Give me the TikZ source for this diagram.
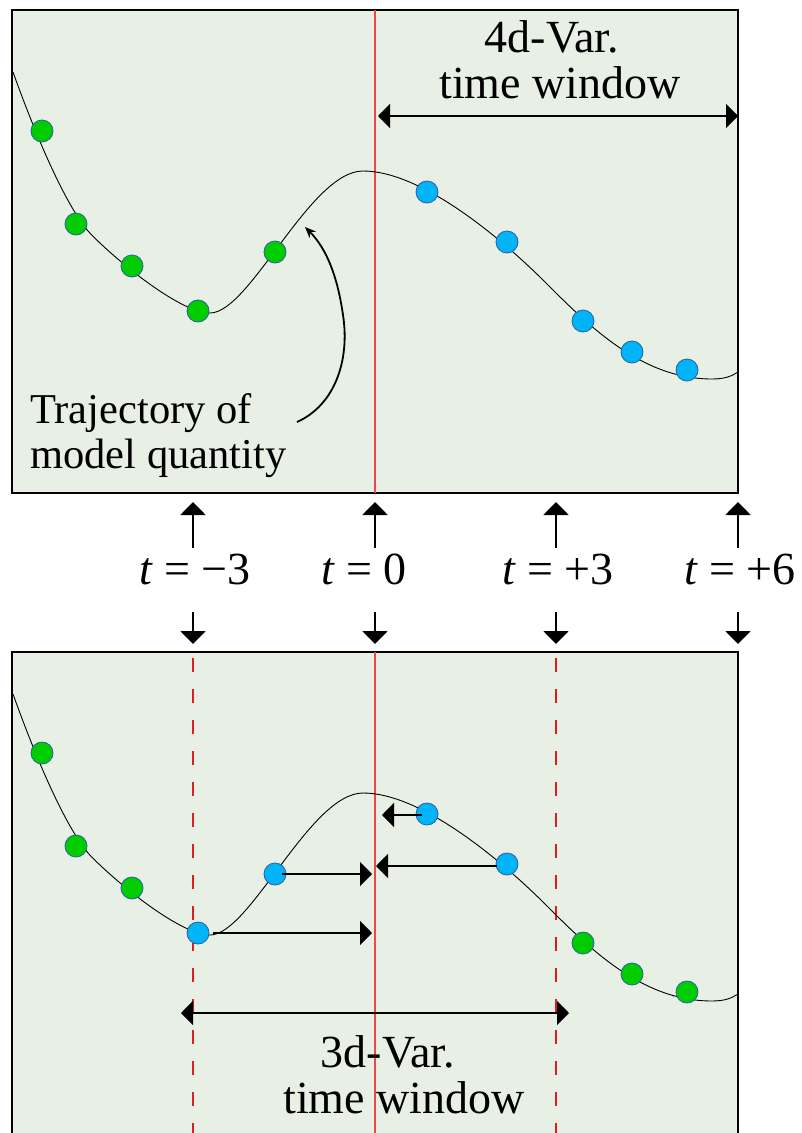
\documentclass[tikz,border=0pt]{standalone}
\usepackage{fontspec}
\setmainfont{Liberation Serif}
\usetikzlibrary{arrows.meta}
\definecolor{panelbg}{RGB}{232,239,228}
\definecolor{dotgreen}{RGB}{0,204,0}
\definecolor{dotblue}{RGB}{0,180,250}
\definecolor{dotedge}{RGB}{40,95,160}
\definecolor{redsolid}{RGB}{240,70,70}
\definecolor{reddash}{RGB}{220,30,30}
\begin{document}
\begin{tikzpicture}[x=1pt,y=-1pt,
  panel/.style={draw=black,fill=panelbg,line width=2pt},
  traj/.style={draw=black,line width=0.9pt},
  gdot/.style={circle,draw=dotedge,line width=0.8pt,fill=dotgreen,minimum size=22pt,inner sep=0pt},
  bdot/.style={circle,draw=dotedge,line width=0.8pt,fill=dotblue,minimum size=22pt,inner sep=0pt},
  redline/.style={draw=redsolid,line width=1.1pt},
  reddashed/.style={draw=reddash,line width=1.2pt,dash pattern=on 14pt off 17pt},
  harrow/.style={draw=black,line width=2pt,-{Triangle[length=12pt,width=24pt]}},
  winarrow/.style={draw=black,line width=2pt,{Triangle[length=12pt,width=24pt]}-{Triangle[length=12pt,width=24pt]}},
  varrow/.style={draw=black,line width=2pt,-{Triangle[length=13pt,width=25pt]}},
  bigtxt/.style={font=\fontsize{46}{46}\selectfont,inner sep=0pt},
  wintxt/.style={align=center,inner sep=0pt},
  midtxt/.style={font=\fontsize{42.5}{45}\selectfont,inner sep=0pt,align=left}
]
\useasboundingbox (0,0) rectangle (801,1133);
\fill[white] (0,0) rectangle (801,1133);

% panels
\draw[panel] (11.5,9.5) rectangle (738,493);
\draw[panel] (11.5,652) rectangle (738,1150);

% red reference lines
\draw[redline] (375,10) -- (375,493);
\draw[redline] (375,652) -- (375,1133);
\draw[reddashed] (193,658) -- (193,1133);
\draw[reddashed] (556,658) -- (556,1133);

% trajectories
\foreach \dy in {0,622}{
\begin{scope}[shift={(0,\dy)}]
\draw[traj] (13,72) .. controls (33,128) and (63,201) .. (88,231)
  .. controls (108,253) and (178,313) .. (210,313)
  .. controls (250,313) and (310,171) .. (363,171)
  .. controls (423,171) and (505,242) .. (545,282)
  .. controls (590,327) and (642,379) .. (712,379)
  .. controls (725,379) and (732,376) .. (738,372);
\end{scope}}

% top panel dots
\node[gdot] (tg1) at (42,131) {};
\node[gdot] (tg2) at (76,224) {};
\node[gdot] (tg3) at (132,266) {};
\node[gdot] (tg4) at (198,311) {};
\node[gdot] (tg5) at (275,252) {};
\node[bdot] (tb1) at (427,192) {};
\node[bdot] (tb2) at (507,242) {};
\node[bdot] (tb3) at (583,321) {};
\node[bdot] (tb4) at (632,352) {};
\node[bdot] (tb5) at (687,370) {};

% bottom panel dots
\node[gdot] (bg1) at (42,753) {};
\node[gdot] (bg2) at (76,846) {};
\node[gdot] (bg3) at (132,888) {};
\node[bdot] (bb1) at (198,933) {};
\node[bdot] (bb2) at (275,874) {};
\node[bdot] (bb3) at (427,814) {};
\node[bdot] (bb4) at (507,864) {};
\node[gdot] (bg4) at (583,943) {};
\node[gdot] (bg5) at (632,974) {};
\node[gdot] (bg6) at (687,992) {};

% 4d-Var window
\coordinate (w4l) at (378,116);
\coordinate (w4r) at (738,116);
\draw[winarrow] (w4l) -- (w4r);
\node[wintxt,font=\fontsize{46}{46}\selectfont,anchor=north] (w4) at (560,20.6) {4d-Var.\hspace*{16pt}\\time window};

% trajectory label and curved arrow
\node[midtxt,anchor=north west] (lab) at (30,393) {Trajectory of\\model quantity};
\coordinate (labs) at (297,422);
\coordinate (labt) at (305,227);
\draw[line width=1.8pt,-{Stealth[length=11pt,width=9pt]}] (labs) .. controls (335,405) and (350,360) .. (343,315) .. controls (338,280) and (328,250) .. (labt);

% time markers
\foreach \n/\xx/\lab in {m3/193/{\textit{t} = −3}, z0/375/{\textit{t} = 0}, p3/556/{\textit{t} = +3}, p6/738/{\textit{t} = +6}}{
  \node[bigtxt,anchor=base west] (t\n) at (\xx-54,584) {\lab};
  \coordinate (ua\n) at (\xx,548);
  \coordinate (ub\n) at (\xx,502);
  \coordinate (da\n) at (\xx,612);
  \coordinate (db\n) at (\xx,644);
  \draw[varrow] (ua\n) -- (ub\n);
  \draw[varrow] (da\n) -- (db\n);
}

% bottom shift arrows
\coordinate (s1a) at (213,933);
\coordinate (s1b) at (372,933);
\coordinate (s2a) at (282,874);
\coordinate (s2b) at (372,874);
\coordinate (s3a) at (497,866);
\coordinate (s3b) at (376,866);
\coordinate (s4a) at (422,815);
\coordinate (s4b) at (382,815);
\draw[harrow] (s1a) -- (s1b);
\draw[harrow] (s2a) -- (s2b);
\draw[harrow] (s3a) -- (s3b);
\draw[harrow] (s4a) -- (s4b);

% 3d-Var window
\coordinate (w3l) at (181,1013);
\coordinate (w3r) at (569,1013);
\draw[winarrow] (w3l) -- (w3r);
\node[wintxt,font=\fontsize{46}{46}\selectfont,anchor=north] (w3) at (404,1035.6) {3d-Var.\hspace*{32pt}\\time window};
\end{tikzpicture}
\end{document}
